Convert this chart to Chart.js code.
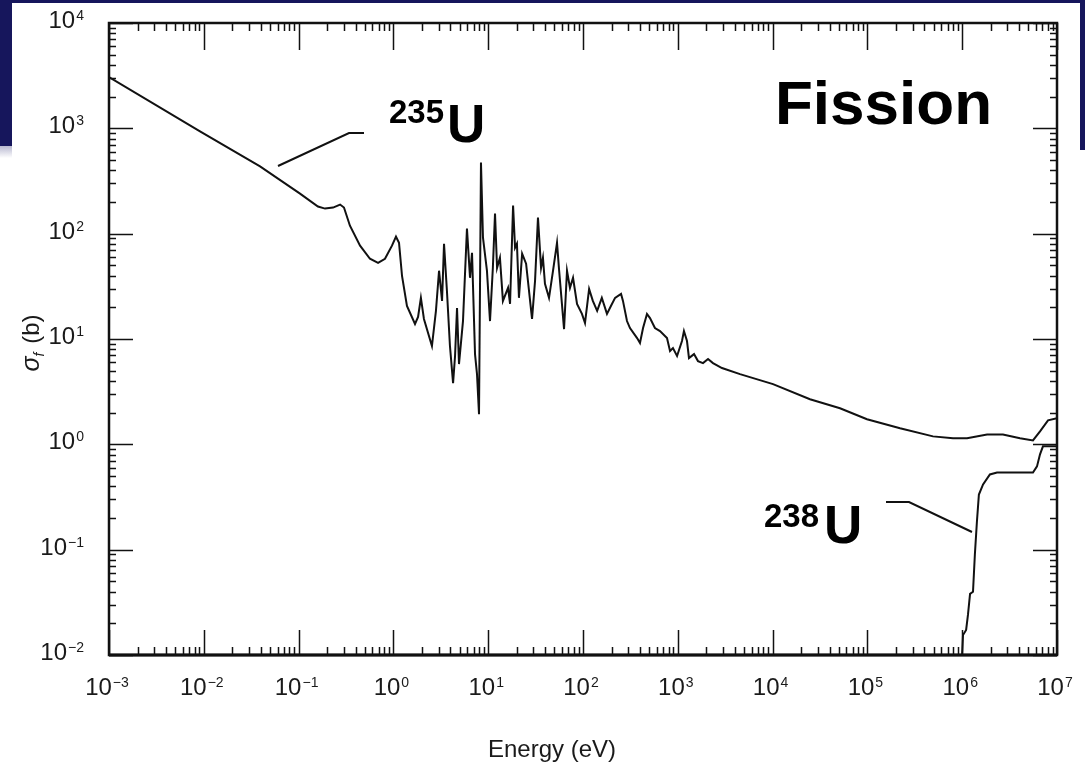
<!DOCTYPE html>
<html>
<head>
<meta charset="utf-8">
<script src="https://cdn.jsdelivr.net/npm/chart.js@4.4.1/dist/chart.umd.min.js"></script>
<style>
  html, body { margin: 0; padding: 0; background: #fff; }
  #wrap { width: 1085px; height: 764px; }
</style>
</head>
<body>
<div id="wrap"><canvas id="chart" width="1085" height="764"></canvas></div>
<script>
// energies in eV, cross sections in barns
const u235Energy = [
  1.0e-3, 9.12e-3, 3.92e-2, 0.1035, 0.160, 0.190, 0.231, 0.274, 0.301, 0.348,
  0.445, 0.566, 0.689, 0.815, 0.966, 1.065, 1.146, 1.233, 1.39, 1.69,
  1.82, 1.95, 2.10, 2.55, 2.81, 3.03, 3.26, 3.42, 3.67, 3.95,
  4.26, 4.47, 4.69, 4.92, 5.42, 5.97, 6.43, 6.75, 7.26, 7.62,
  8.00, 8.39, 8.81, 9.70, 10.45, 11.2, 11.8, 12.4, 13.3, 14.3,
  16.2, 17.0, 18.3, 19.2, 20.1, 21.1, 22.8, 25.1, 29.0, 31.2,
  33.5, 36.1, 37.8, 39.7, 43.8, 48.3, 53.2, 55.8, 63.1, 67.8,
  72.9, 78.5, 86.5, 97.5, 105, 116, 127, 141, 158, 179,
  197, 218, 252, 264, 291, 313, 372, 399, 430, 473,
  509, 574, 649, 769, 828, 889, 982, 1107, 1161, 1250,
  1312, 1483, 1633, 1845, 2084, 2350, 2924, 4530, 1.01e4, 2.48e4,
  5.14e4, 9.9e4, 2.21e5, 4.92e5, 8.0e5, 1.125e6, 1.83e6, 2.69e6, 4.07e6, 5.58e6,
  6.62e6, 8.04e6, 1.0e7
];
const u235Sigma = [
  3060, 936, 435, 240, 181, 173, 177, 189, 177, 119,
  76.9, 57.8, 52.9, 57.8, 76.9, 93.6, 82.0, 39.8, 20.6, 13.9,
  16.2, 24.6, 15.5, 8.58, 18.5, 44.5, 23.0, 80.3, 28.7, 8.58,
  3.81, 6.89, 19.7, 5.78, 14.8, 112, 38.1, 65.9, 7.19, 4.64,
  1.93, 474, 91.6, 44.5, 14.8, 47.4, 155, 47.4, 59.1, 23.0,
  30.6, 21.5, 185, 73.6, 80.3, 24.6, 64.5, 51.8, 15.5, 35.6,
  142, 47.4, 59.1, 33.4, 24.6, 44.5, 82.0, 46.4, 12.4, 44.5,
  30.6, 38.1, 21.5, 17.3, 14.2, 29.9, 23.0, 18.5, 24.6, 17.3,
  20.6, 24.6, 26.8, 23.0, 14.8, 12.7, 10.2, 9.16, 12.7, 17.3,
  15.8, 12.7, 11.9, 10.2, 7.69, 8.20, 6.89, 9.57, 11.9, 9.57,
  6.59, 7.19, 6.17, 5.90, 6.45, 5.90, 5.30, 4.64, 3.73, 2.68,
  2.20, 1.73, 1.42, 1.19, 1.14, 1.14, 1.24, 1.24, 1.14, 1.09,
  1.33, 1.69, 1.77
];
const u238Energy = [
  9.96e5, 1.02e6, 1.10e6, 1.15e6, 1.21e6, 1.30e6, 1.36e6, 1.43e6, 1.50e6, 1.66e6,
  1.96e6, 2.33e6, 3.78e6, 5.58e6, 6.15e6, 6.62e6, 7.11e6, 8.44e6, 1.0e7
];
const u238Sigma = [
  0.0098, 0.0155, 0.0173, 0.0240, 0.0381, 0.0398, 0.0895, 0.185, 0.334, 0.416,
  0.518, 0.541, 0.541, 0.541, 0.617, 0.803, 0.957, 0.957, 0.957
];
const xTickExponents = [-3, -2, -1, 0, 1, 2, 3, 4, 5, 6, 7];
const yTickExponents = [-2, -1, 0, 1, 2, 3, 4];

const toPoints = (xs, ys) => xs.map((x, i) => ({ x, y: ys[i] }));
const SANS = '"Liberation Sans", Arial, Helvetica, sans-serif';
const INK = '#111';

function supText(e) {
  return e < 0 ? '\u2212' + (-e) : String(e);
}

// "10" with a raised exponent; anchor is 'center' or 'right'
function drawPower(ctx, x, baseline, exp, anchor) {
  ctx.font = '24px ' + SANS;
  const wBase = ctx.measureText('10').width;
  ctx.font = '14px ' + SANS;
  const sup = supText(exp);
  const wSup = ctx.measureText(sup).width;
  const total = wBase + 1 + wSup;
  const start = anchor === 'center' ? x - total / 2 : x - total;
  ctx.textAlign = 'left';
  ctx.textBaseline = 'alphabetic';
  ctx.font = '24px ' + SANS;
  ctx.fillText('10', start, baseline);
  ctx.font = '14px ' + SANS;
  ctx.fillText(sup, start + wBase + 1, baseline - 8);
}

const paperPlugin = {
  id: 'paper',
  beforeDraw(chart) {
    const ctx = chart.ctx;
    ctx.save();
    ctx.fillStyle = '#fff';
    ctx.fillRect(0, 0, chart.width, chart.height);
    ctx.fillStyle = '#16165c';
    ctx.fillRect(0, 0, chart.width, 3);
    ctx.fillRect(0, 0, 12, 146);
    ctx.fillRect(1080, 0, 5, 150);
    const g = ctx.createLinearGradient(0, 146, 0, 158);
    g.addColorStop(0, '#b8b8d0');
    g.addColorStop(1, '#ffffff');
    ctx.fillStyle = g;
    ctx.fillRect(0, 146, 12, 12);
    ctx.restore();
  },
  afterDraw(chart) {
    const ctx = chart.ctx;
    const a = chart.chartArea;
    const xs = chart.scales.x;
    const ys = chart.scales.y;
    ctx.save();
    ctx.strokeStyle = INK;
    ctx.fillStyle = INK;

    // frame
    ctx.lineWidth = 2.5;
    ctx.strokeRect(a.left, a.top, a.right - a.left, a.bottom - a.top);
    ctx.lineWidth = 3;
    ctx.beginPath();
    ctx.moveTo(a.left, a.bottom);
    ctx.lineTo(a.right, a.bottom);
    ctx.stroke();

    // inward ticks, majors at decades and minors at 2..9
    ctx.lineWidth = 1.5;
    ctx.beginPath();
    xTickExponents.forEach((e, i) => {
      for (let m = 1; m <= 9; m++) {
        if (m > 1 && i === xTickExponents.length - 1) break;
        const px = Math.round(xs.getPixelForValue(m * Math.pow(10, e))) + 0.5;
        const lenB = m === 1 ? 25 : 8;
        const lenT = m === 1 ? 27 : 8;
        ctx.moveTo(px, a.bottom);
        ctx.lineTo(px, a.bottom - lenB);
        ctx.moveTo(px, a.top);
        ctx.lineTo(px, a.top + lenT);
      }
    });
    yTickExponents.forEach((e, i) => {
      for (let m = 1; m <= 9; m++) {
        if (m > 1 && i === yTickExponents.length - 1) break;
        const py = Math.round(ys.getPixelForValue(m * Math.pow(10, e))) + 0.5;
        const len = m === 1 ? 24 : 7;
        ctx.moveTo(a.left, py);
        ctx.lineTo(a.left + len, py);
        ctx.moveTo(a.right, py);
        ctx.lineTo(a.right - len, py);
      }
    });
    ctx.stroke();

    // tick labels
    ctx.fillStyle = '#1a1a1a';
    xTickExponents.forEach(e => {
      drawPower(ctx, xs.getPixelForValue(Math.pow(10, e)) - 2, 695, e, 'center');
    });
    yTickExponents.forEach(e => {
      drawPower(ctx, 84, ys.getPixelForValue(Math.pow(10, e)) + 5, e, 'right');
    });

    // axis titles
    ctx.font = '24px ' + SANS;
    ctx.textAlign = 'center';
    ctx.fillText('Energy (eV)', 552, 757);

    ctx.save();
    ctx.translate(39, 343);
    ctx.rotate(-Math.PI / 2);
    ctx.textAlign = 'left';
    ctx.font = 'italic 25px ' + SANS;
    const wSig = ctx.measureText('\u03c3').width;
    ctx.font = 'italic 14px ' + SANS;
    const wF = ctx.measureText('f').width;
    ctx.font = '24px ' + SANS;
    const wB = ctx.measureText(' (b)').width;
    let sx = -(wSig + wF + 2 + wB) / 2;
    ctx.font = 'italic 25px ' + SANS;
    ctx.fillText('\u03c3', sx, 0);
    ctx.font = 'italic 14px ' + SANS;
    ctx.fillText('f', sx + wSig, 5);
    ctx.font = '24px ' + SANS;
    ctx.fillText(' (b)', sx + wSig + wF + 2, 0);
    ctx.restore();

    // annotations
    ctx.fillStyle = '#000';
    ctx.textAlign = 'left';
    ctx.font = 'bold 62px ' + SANS;
    ctx.fillText('Fission', 775, 124);

    ctx.font = 'bold 33px ' + SANS;
    ctx.fillText('235', 389, 123);
    ctx.font = 'bold 53px ' + SANS;
    ctx.fillText('U', 447, 142);

    ctx.font = 'bold 33px ' + SANS;
    ctx.fillText('238', 764, 527);
    ctx.font = 'bold 53px ' + SANS;
    ctx.fillText('U', 824, 543);

    ctx.strokeStyle = INK;
    ctx.lineWidth = 2;
    ctx.beginPath();
    ctx.moveTo(278, 166);
    ctx.lineTo(349, 133);
    ctx.lineTo(364, 133);
    ctx.moveTo(886, 502);
    ctx.lineTo(909, 502);
    ctx.lineTo(972, 532);
    ctx.stroke();
    ctx.restore();
  }
};

new Chart(document.getElementById('chart'), {
  type: 'line',
  data: {
    datasets: [
      {
        label: '235U',
        data: toPoints(u235Energy, u235Sigma),
        borderColor: INK,
        borderWidth: 2,
        pointRadius: 0,
        tension: 0,
        fill: false,
      },
      {
        label: '238U',
        data: toPoints(u238Energy, u238Sigma),
        borderColor: INK,
        borderWidth: 2,
        pointRadius: 0,
        tension: 0,
        fill: false,
      },
    ],
  },
  options: {
    responsive: false,
    animation: false,
    devicePixelRatio: 1,
    layout: { padding: { left: 109, top: 23, right: 28, bottom: 109 } },
    scales: {
      x: { type: 'logarithmic', min: 1e-3, max: 1e7, display: false },
      y: { type: 'logarithmic', min: 1e-2, max: 1e4, display: false },
    },
    plugins: {
      legend: { display: false },
      tooltip: { enabled: false },
    },
  },
  plugins: [paperPlugin],
});
</script>
</body>
</html>
